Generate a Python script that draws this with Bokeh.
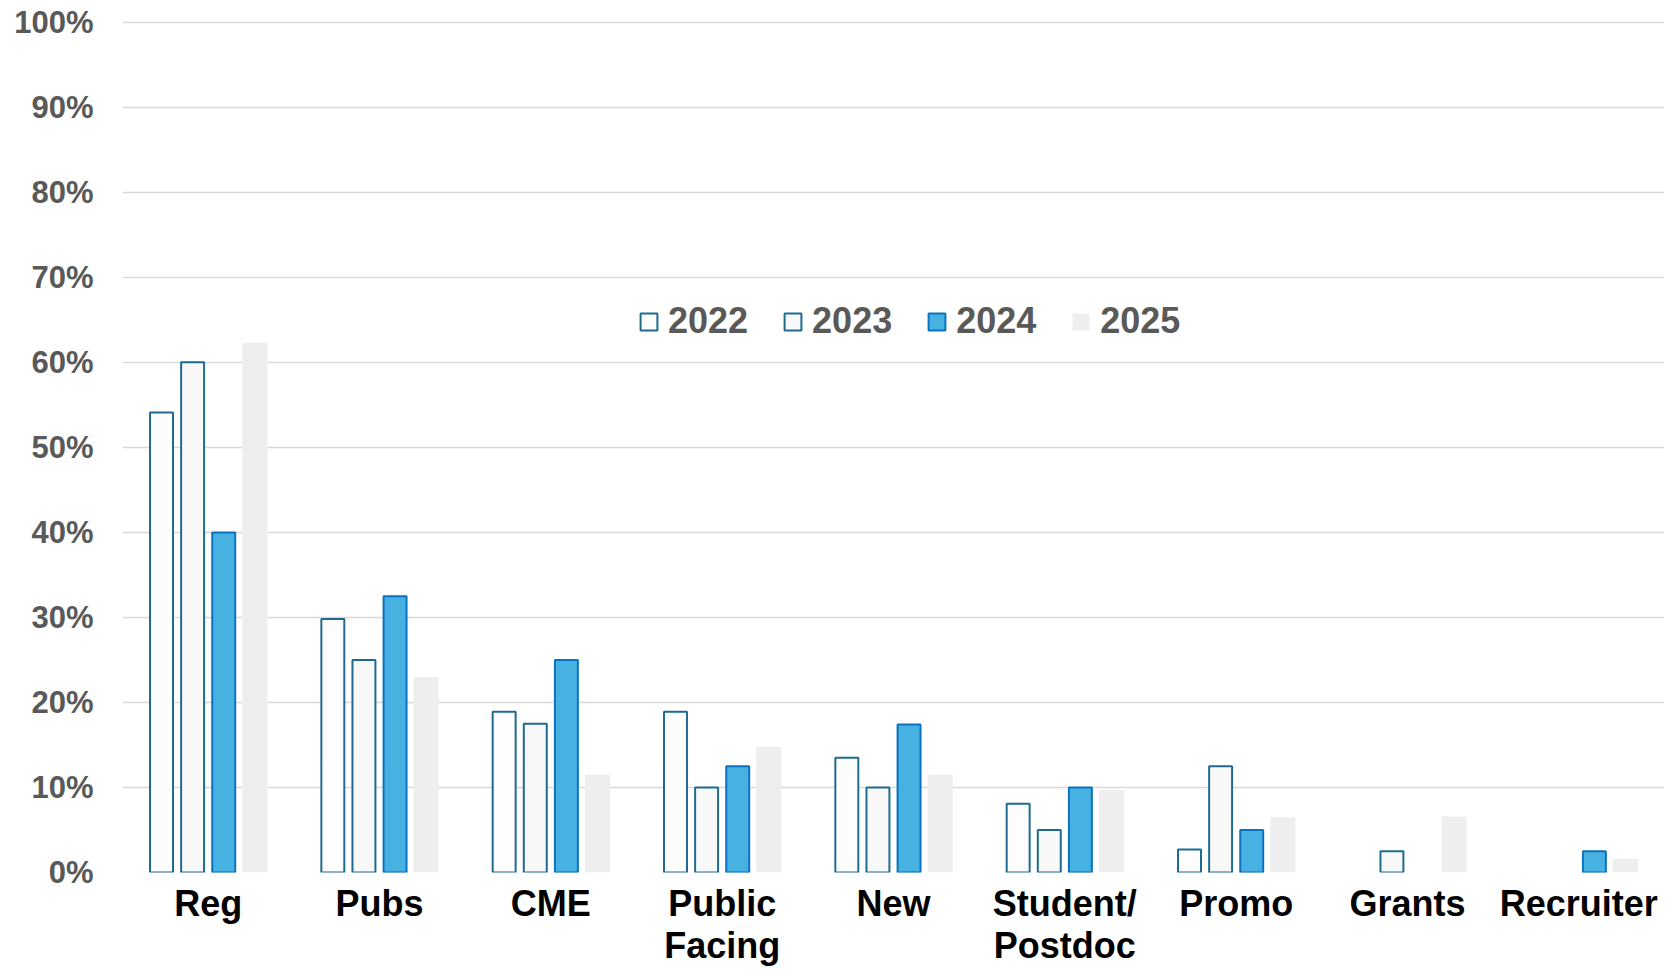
from bokeh.plotting import figure
from bokeh.models import (ColumnDataSource, FactorRange, Range1d, FixedTicker,
                          PrintfTickFormatter, Legend, LegendItem)
from bokeh.transform import dodge
from bokeh.embed import file_html
from bokeh.resources import INLINE

categories = ["Reg", "Pubs", "CME", "Public\nFacing", "New", "Student/\nPostdoc",
              "Promo", "Grants", "Recruiter"]
years = ["2022", "2023", "2024", "2025"]
v2022 = [54.1, 29.8, 18.9, 18.9, 13.5, 8.1, 2.7, 0, 0]
v2023 = [60.0, 25.0, 17.5, 10.0, 10.0, 5.0, 12.5, 2.5, 0]
v2024 = [40.0, 32.5, 25.0, 12.5, 17.4, 10.0, 5.0, 0, 2.5]
v2025 = [62.3, 23.0, 11.5, 14.8, 11.5, 9.7, 6.5, 6.6, 1.6]
y_ticks = [0, 10, 20, 30, 40, 50, 60, 70, 80, 90, 100]

series = [v2022, v2023, v2024, v2025]
fills = ["#FDFDFD", "#F8F8F8", "#47B1E1", "#EEEEEE"]
lines = ["#1F6B8F", "#1F6B8F", "#0B72C0", None]
offsets = [-0.2724, -0.0908, 0.0908, 0.2724]

FONT = "Liberation Sans"

p = figure(x_range=FactorRange(factors=categories, range_padding=0),
           y_range=Range1d(0, 100.2),
           width=1680, height=970, output_backend="svg", toolbar_location=None,
           min_border_left=122, min_border_right=16, min_border_top=20,
           min_border_bottom=98)
p.outline_line_color = None
p.background_fill_color = "white"
p.border_fill_color = "white"

items = []
for yr, vals, fc, lc, off in zip(years, series, fills, lines, offsets):
    cats_nz = [c for c, v in zip(categories, vals) if v > 0]
    vals_nz = [v for v in vals if v > 0]
    src = ColumnDataSource(dict(cat=cats_nz, val=vals_nz))
    if lc is None:
        r = p.vbar(x=dodge("cat", off, range=p.x_range), top="val", bottom=0,
                   width=0.146, source=src, fill_color=fc, line_color=None)
    else:
        r = p.vbar(x=dodge("cat", off, range=p.x_range), top="val", bottom=0,
                   width=0.134, source=src, fill_color=fc, line_color=lc,
                   line_width=2)
    items.append(LegendItem(label=yr, renderers=[r]))

legend = Legend(items=items, orientation="horizontal", location=(516, 530),
                glyph_width=21, glyph_height=21, label_standoff=9, spacing=34,
                padding=0, margin=0, border_line_alpha=0, background_fill_alpha=0,
                label_text_font=FONT, label_text_font_size="36px",
                label_text_font_style="bold", label_text_color="#595959")
p.add_layout(legend, "center")

p.xgrid.grid_line_color = None
p.ygrid.grid_line_color = "#D9D9D9"
p.ygrid.grid_line_width = 1.5

p.yaxis.ticker = FixedTicker(ticks=y_ticks)
p.yaxis.formatter = PrintfTickFormatter(format="%d%%")
p.yaxis.axis_line_color = None
p.yaxis.major_tick_line_color = None
p.yaxis.minor_tick_line_color = None
p.yaxis.major_tick_out = 0
p.yaxis.major_tick_in = 0
p.yaxis.minor_tick_out = 0
p.yaxis.major_label_standoff = 29
p.yaxis.major_label_text_font = FONT
p.yaxis.major_label_text_font_size = "31px"
p.yaxis.major_label_text_font_style = "bold"
p.yaxis.major_label_text_color = "#595959"

p.xaxis.axis_line_color = None
p.xaxis.major_tick_line_color = None
p.xaxis.minor_tick_line_color = None
p.xaxis.major_tick_out = 0
p.xaxis.major_tick_in = 0
p.xaxis.minor_tick_out = 0
p.xaxis.major_label_standoff = 10
p.xaxis.major_label_text_font = FONT
p.xaxis.major_label_text_font_size = "36px"
p.xaxis.major_label_text_font_style = "bold"
p.xaxis.major_label_text_color = "black"
p.xaxis.major_label_text_line_height = 1.04

open("out.html", "w").write(file_html(p, INLINE))
